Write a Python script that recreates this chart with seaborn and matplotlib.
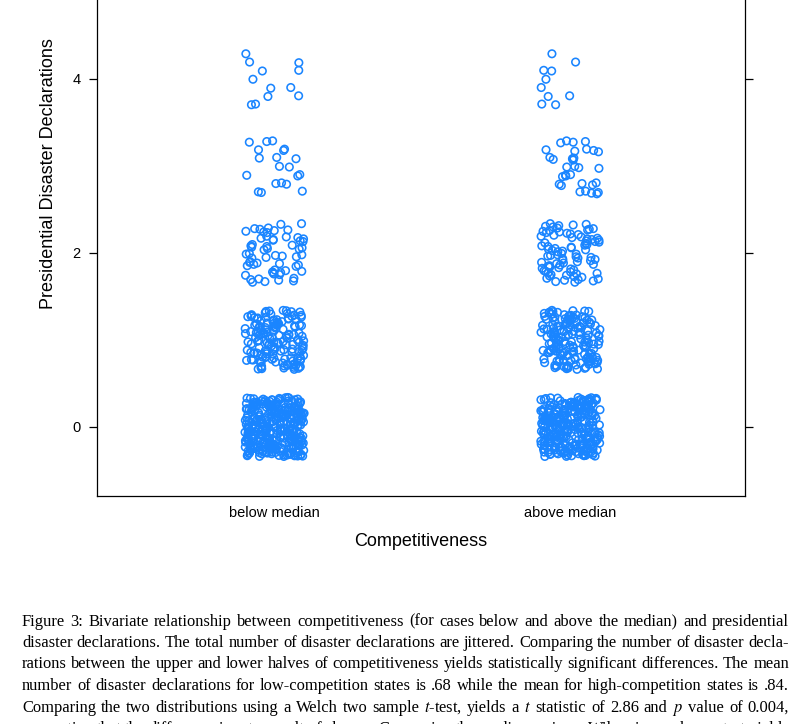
import numpy as np
import pandas as pd
import matplotlib
matplotlib.use("Agg")
import matplotlib.pyplot as plt
import seaborn as sns

# ---------------- data ----------------
groups = ["below median", "above median"]
levels = [0, 1, 2, 3, 4]
below_counts = [314, 150, 60, 20, 12]   # mean ~ .68
above_counts = [268, 160, 85, 32, 10]   # mean ~ .84
yticks = [0, 2, 4]
xlabel = "Competitiveness"
ylabel = "Presidential Disaster Declarations"
caption_lines = [
    "Figure 3: Bivariate relationship between competitiveness (for cases below and above the median) and presidential",
    "disaster declarations. The total number of disaster declarations are jittered. Comparing the number of disaster decla-",
    "rations between the upper and lower halves of competitiveness yields statistically significant differences. The mean",
    "number of disaster declarations for low-competition states is .68 while the mean for high-competition states is .84.",
    "Comparing the two distributions using a Welch two sample $t$-test, yields a $t$ statistic of 2.86 and $p$ value of 0.004,",
    "suggesting that the difference is not a result of chance. Comparing the medians using a Wilcoxian rank sum test yields",
]

# ---------------- build frame (with deterministic vertical jitter) ----------------
rows_g, rows_y = [], []
for g, counts in zip(groups, [below_counts, above_counts]):
    for lv, n in zip(levels, counts):
        for i in range(n):
            # vertical jitter of the displayed integer counts (R2 low-discrepancy offsets)
            off = ((0.5 + (i + 1) * 0.5698402910) % 1.0 - 0.5) * 0.68
            rows_g.append(g)
            rows_y.append(lv + off)
df = pd.DataFrame({"group": rows_g, "decl": rows_y})

# ---------------- figure ----------------
sns.set_theme(style="white")
plt.rcParams["font.family"] = ["Liberation Sans", "DejaVu Sans"]
plt.rcParams["mathtext.fontset"] = "stix"

W, H, DPI = 809, 724, 100
fig = plt.figure(figsize=(W / DPI, H / DPI), dpi=DPI)
ax_left, ax_right, ax_bottom, ax_top = 97, 745, 496, -148
ax = fig.add_axes([ax_left / W, (H - ax_bottom) / H,
                   (ax_right - ax_left) / W, (ax_bottom - ax_top) / H])

np.random.seed(7)
sns.stripplot(data=df, x="group", y="decl", order=groups, jitter=0.1,
              marker="o", size=5.4, ax=ax, color="#0080ff")
for coll in ax.collections:
    coll.set_facecolor("none")
    coll.set_edgecolor("#1a85ff")
    coll.set_linewidth(1.15)

px_per_unit = 87.1
ax.set_ylim((427 - ax_bottom) / px_per_unit, (427 - ax_top) / px_per_unit)
ax.set_xlim(-0.6, 1.59)
ax.set_yticks(yticks)
ax.set_yticklabels([str(v) for v in yticks])

for s in ax.spines.values():
    s.set_visible(True)
    s.set_color("black")
    s.set_linewidth(0.9)

ax.tick_params(axis="y", left=True, right=True, labelleft=True, labelright=False,
               direction="out", length=5.5, width=0.9, pad=6.5,
               labelsize=10.5, colors="black")
ax.tick_params(axis="x", bottom=False, length=0, pad=7, labelsize=10.5,
               colors="black")

ax.set_xlabel(xlabel, fontsize=13, color="black")
ax.set_ylabel(ylabel, fontsize=13, color="black")
ax.xaxis.set_label_coords(0.5, -(533 - ax_bottom) / (ax_bottom - ax_top))
ax.xaxis.label.set_va("top")
ax.yaxis.set_label_coords(-(97 - 57) / (ax_right - ax_left), 0.5)

# ---------------- justified caption ----------------
renderer = fig.canvas.get_renderer()
cap_font = "Liberation Serif"
x0, x1 = 22, 789


def word_width(w, size):
    t = fig.text(0, 0, w, fontfamily=cap_font, fontsize=size)
    wd = t.get_window_extent(renderer).width
    t.remove()
    return wd


base = 10.0
nat = []
for line in caption_lines:
    words = line.split(" ")
    ww = sum(word_width(w, base) for w in words)
    nat.append(ww + (len(words) - 1) * 0.2 * base * DPI / 72)
cap_size = base * (x1 - x0) / max(nat)

baseline0 = 625.5
line_step = 21.5
for li, line in enumerate(caption_lines):
    words = line.split(" ")
    widths = [word_width(w, cap_size) for w in words]
    gap = ((x1 - x0) - sum(widths)) / (len(words) - 1)
    x = x0
    yb = baseline0 + li * line_step
    for w, wd in zip(words, widths):
        fig.text(x / W, 1 - yb / H, w, fontfamily=cap_font, fontsize=cap_size,
                 va="baseline", ha="left", color="black")
        x += wd + gap

fig.savefig("out.png", dpi=DPI, facecolor="white")
